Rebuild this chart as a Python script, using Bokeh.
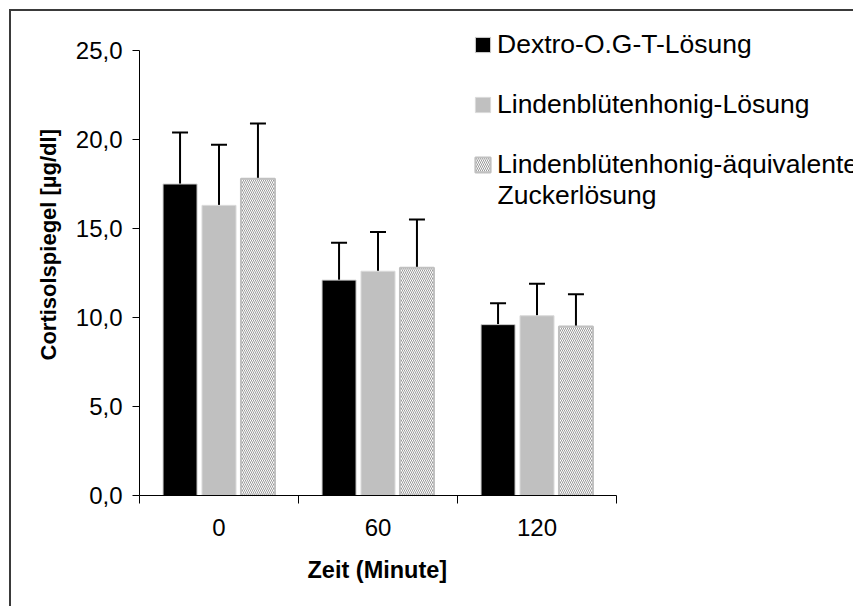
from bokeh.plotting import figure
from bokeh.layouts import column
from bokeh.models import (ColumnDataSource, FixedTicker, Whisker, TeeHead,
                          Legend, LegendItem, Range1d, Label, Title)
from bokeh.embed import file_html
from bokeh.resources import INLINE

# Sampling times (minutes) and the three test solutions
times = ["0", "60", "120"]
series_names = ["Dextro-O.G-T-Lösung",
                "Lindenblütenhonig-Lösung",
                "Lindenblütenhonig-äquivalente"]
series_name_cont = "Zuckerlösung"

# Mean cortisol level and standard deviation (µg/dl)
dextro_mean = [17.5, 12.1, 9.6]
dextro_sd = [2.9, 2.1, 1.2]
honig_mean = [16.3, 12.6, 10.1]
honig_sd = [3.4, 2.2, 1.8]
zucker_mean = [17.8, 12.8, 9.5]
zucker_sd = [3.1, 2.7, 1.8]

y_ticks = [0, 5, 10, 15, 20, 25]
y_max = 25

FONT = "Liberation Sans"

# canvas / frame geometry in pixels
W, H = 842, 595
LEFT, BOTTOM = 128, 111
CAT_PX = 159.0           # pixels per time category
UNIT_PX = 445.0 / y_max  # pixels per µg/dl

frame_w = W - LEFT
frame_h = H - BOTTOM
n = len(times)

p = figure(width=W, height=H,
           x_range=Range1d(0, frame_w / CAT_PX),
           y_range=Range1d(0, frame_h / UNIT_PX),
           output_backend="svg", toolbar_location=None,
           min_border_left=LEFT, min_border_right=0,
           min_border_top=0, min_border_bottom=BOTTOM)
p.outline_line_color = None
p.xgrid.visible = False
p.ygrid.visible = False
p.background_fill_color = "white"
p.border_fill_color = "white"

offsets = [-0.245, 0.0, 0.245]
bar_w = 0.214
means = [dextro_mean, honig_mean, zucker_mean]
sds = [dextro_sd, honig_sd, zucker_sd]
styles = [
    dict(fill_color="black", line_color="#d0d0d0", line_width=1),
    dict(fill_color="#c0c0c0", line_color="#dadada", line_width=1),
    dict(fill_color="white", line_color="#c0c0c0", line_width=2,
         hatch_pattern="left_diagonal_line", hatch_color="#9a9a9a",
         hatch_scale=4, hatch_weight=1),
]

renderers = []
for k in range(3):
    xs = [i + 0.5 + offsets[k] for i in range(n)]
    src = ColumnDataSource(dict(
        x=xs, top=means[k],
        upper=[m + s for m, s in zip(means[k], sds[k])]))
    r = p.vbar(x="x", top="top", width=bar_w, source=src, **styles[k])
    renderers.append(r)
    w = Whisker(source=src, base="x", lower="top", upper="upper",
                line_color="black", line_width=2,
                upper_head=TeeHead(size=16, line_width=2, line_color="black"),
                lower_head=None)
    p.add_layout(w)

# x axis: labels at category centres, ticks at category boundaries
xa = p.xaxis[0]
centers = [i + 0.5 for i in range(n)]
xa.bounds = (0, n)
xa.ticker = FixedTicker(ticks=centers, minor_ticks=list(range(n + 1)))
xa.major_label_overrides = {c: t for c, t in zip(centers, times)}
xa.major_tick_line_color = None
xa.major_tick_out = 8
xa.minor_tick_out = 8
xa.minor_tick_in = 0
xa.minor_tick_line_color = "black"
xa.axis_line_color = "black"
xa.major_label_text_font = FONT
xa.major_label_text_font_size = "24px"
xa.major_label_text_color = "black"
xa.major_label_standoff = 15

ya = p.yaxis[0]
ya.bounds = (0, y_max)
ya.ticker = FixedTicker(ticks=y_ticks, minor_ticks=[])
ya.major_label_overrides = {t: f"{t:.1f}".replace(".", ",") for t in y_ticks}
ya.major_tick_out = 7
ya.major_tick_in = 0
ya.major_tick_line_color = "black"
ya.axis_line_color = "black"
ya.major_label_text_font = FONT
ya.major_label_text_font_size = "24px"
ya.major_label_text_color = "black"
ya.major_label_standoff = 10

# axis titles, positioned along the bounded axes
p.add_layout(Title(text="Zeit (Minute]", align="left", offset=168, standoff=32,
                   text_font=FONT, text_font_size="23.5px", text_font_style="bold",
                   text_color="black"), "below")
p.add_layout(Title(text="Cortisolspiegel [µg/dl]", align="left", offset=135, standoff=24,
                   text_font=FONT, text_font_size="22px", text_font_style="bold",
                   text_color="black"), "left")

legend = Legend(
    items=[LegendItem(label=s, renderers=[r]) for s, r in zip(series_names, renderers)],
    location=(334, 315),
    label_text_font=FONT, label_text_font_size="26.5px", label_text_color="black",
    glyph_width=19, glyph_height=19, label_standoff=5, label_height=30,
    spacing=29, padding=0, margin=0,
    border_line_color=None, background_fill_alpha=0)
p.add_layout(legend)

# second line of the third legend entry
p.add_layout(Label(x=358, y=301, x_units="screen", y_units="screen",
                   text=series_name_cont, text_font=FONT, text_font_size="26.5px",
                   text_color="black", text_baseline="alphabetic"))

# page frame: thin dark rule on the left and top of the chart area
page = column(p, styles={"margin-left": "9px", "margin-top": "9px",
                         "border-left": "2px solid #3a3a3a",
                         "border-top": "2px solid #3a3a3a"})

open("out.html", "w").write(file_html(page, INLINE))
